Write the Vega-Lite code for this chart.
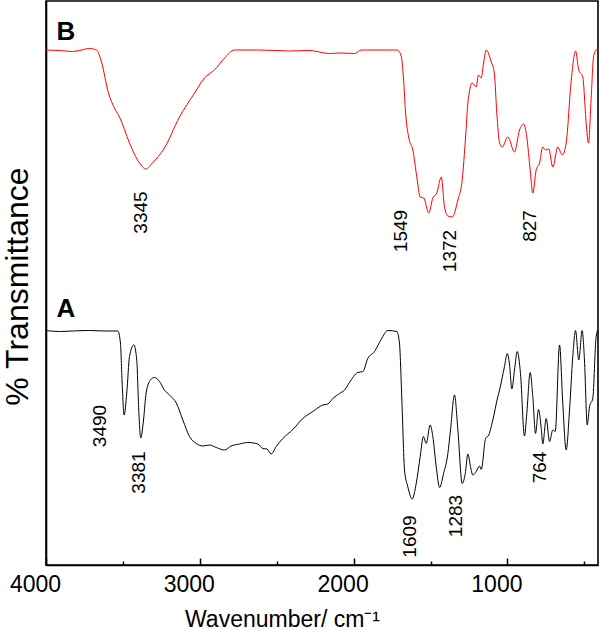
{
  "$schema": "https://vega.github.io/schema/vega-lite/v6.json",
  "width": 552,
  "height": 564,
  "autosize": {"type": "none"},
  "padding": {"left": 46, "top": 1, "right": 2, "bottom": 66},
  "background": "white",
  "config": {
    "view": {"stroke": "black", "strokeWidth": 1.6},
    "font": "Liberation Sans",
    "axis": {"domainColor": "black", "domainWidth": 1.6, "tickColor": "black", "labelColor": "black", "titleColor": "black", "grid": false, "titleFontWeight": "normal"}
  },
  "resolve": {"axis": {"x": "independent"}},
  "datasets": {
    "curves": [
      {"s": "B", "w": 4000, "T": 103}, {"s": "B", "w": 3912, "T": 102.9}, {"s": "B", "w": 3828, "T": 102.7}, {"s": "B", "w": 3782, "T": 102.9}, {"s": "B", "w": 3717, "T": 103.3}, {"s": "B", "w": 3672, "T": 103}, {"s": "B", "w": 3639, "T": 100.6}, {"s": "B", "w": 3594, "T": 94.4}, {"s": "B", "w": 3555, "T": 91.4}, {"s": "B", "w": 3522, "T": 89.6}, {"s": "B", "w": 3457, "T": 84.4}, {"s": "B", "w": 3392, "T": 80.4}, {"s": "B", "w": 3349, "T": 79.2}, {"s": "B", "w": 3308, "T": 80.4}, {"s": "B", "w": 3230, "T": 83.4}, {"s": "B", "w": 3132, "T": 89.6}, {"s": "B", "w": 3034, "T": 94.4}, {"s": "B", "w": 2970, "T": 97.4}, {"s": "B", "w": 2905, "T": 99}, {"s": "B", "w": 2839, "T": 101.4}, {"s": "B", "w": 2774, "T": 103}, {"s": "B", "w": 2612, "T": 103}, {"s": "B", "w": 2417, "T": 102.8}, {"s": "B", "w": 2287, "T": 102.9}, {"s": "B", "w": 2157, "T": 102.3}, {"s": "B", "w": 2092, "T": 102.4}, {"s": "B", "w": 1994, "T": 102.3}, {"s": "B", "w": 1949, "T": 103}, {"s": "B", "w": 1767, "T": 103}, {"s": "B", "w": 1715, "T": 103}, {"s": "B", "w": 1690, "T": 101.7}, {"s": "B", "w": 1675, "T": 97}, {"s": "B", "w": 1662, "T": 90.4}, {"s": "B", "w": 1641, "T": 85.4}, {"s": "B", "w": 1615, "T": 83}, {"s": "B", "w": 1589, "T": 77.6}, {"s": "B", "w": 1567, "T": 73.6}, {"s": "B", "w": 1544, "T": 73.4}, {"s": "B", "w": 1511, "T": 70.4}, {"s": "B", "w": 1485, "T": 73.4}, {"s": "B", "w": 1459, "T": 74.4}, {"s": "B", "w": 1430, "T": 77.6}, {"s": "B", "w": 1409, "T": 71.6}, {"s": "B", "w": 1387, "T": 69.8}, {"s": "B", "w": 1359, "T": 69.6}, {"s": "B", "w": 1322, "T": 73}, {"s": "B", "w": 1294, "T": 77}, {"s": "B", "w": 1272, "T": 85.6}, {"s": "B", "w": 1257, "T": 92.4}, {"s": "B", "w": 1229, "T": 96.4}, {"s": "B", "w": 1203, "T": 95.6}, {"s": "B", "w": 1188, "T": 98}, {"s": "B", "w": 1170, "T": 97.4}, {"s": "B", "w": 1155, "T": 100.4}, {"s": "B", "w": 1138, "T": 103}, {"s": "B", "w": 1105, "T": 100.6}, {"s": "B", "w": 1085, "T": 98.4}, {"s": "B", "w": 1069, "T": 90.4}, {"s": "B", "w": 1051, "T": 84.4}, {"s": "B", "w": 1034, "T": 83.6}, {"s": "B", "w": 997, "T": 85.6}, {"s": "B", "w": 954, "T": 82.6}, {"s": "B", "w": 921, "T": 87}, {"s": "B", "w": 895, "T": 88.2}, {"s": "B", "w": 874, "T": 85.6}, {"s": "B", "w": 852, "T": 79}, {"s": "B", "w": 835, "T": 74.4}, {"s": "B", "w": 813, "T": 79}, {"s": "B", "w": 791, "T": 80.4}, {"s": "B", "w": 770, "T": 83.6}, {"s": "B", "w": 752, "T": 83}, {"s": "B", "w": 731, "T": 83.2}, {"s": "B", "w": 705, "T": 79.6}, {"s": "B", "w": 672, "T": 83.6}, {"s": "B", "w": 644, "T": 82}, {"s": "B", "w": 618, "T": 84.4}, {"s": "B", "w": 585, "T": 97}, {"s": "B", "w": 557, "T": 102.8}, {"s": "B", "w": 536, "T": 99}, {"s": "B", "w": 510, "T": 97.6}, {"s": "B", "w": 488, "T": 88.4}, {"s": "B", "w": 473, "T": 84.4}, {"s": "B", "w": 455, "T": 93.6}, {"s": "B", "w": 440, "T": 101.6}, {"s": "B", "w": 423, "T": 103}, {"s": "B", "w": 411, "T": 103},
      {"s": "A", "w": 4000, "T": 46.9}, {"s": "A", "w": 3912, "T": 46.7}, {"s": "A", "w": 3828, "T": 46.8}, {"s": "A", "w": 3717, "T": 46.9}, {"s": "A", "w": 3620, "T": 46.8}, {"s": "A", "w": 3533, "T": 46.8}, {"s": "A", "w": 3516, "T": 44.4}, {"s": "A", "w": 3505, "T": 36.4}, {"s": "A", "w": 3492, "T": 30}, {"s": "A", "w": 3475, "T": 34.4}, {"s": "A", "w": 3457, "T": 41.7}, {"s": "A", "w": 3429, "T": 44}, {"s": "A", "w": 3410, "T": 41}, {"s": "A", "w": 3397, "T": 31}, {"s": "A", "w": 3384, "T": 25.4}, {"s": "A", "w": 3366, "T": 29}, {"s": "A", "w": 3349, "T": 34.4}, {"s": "A", "w": 3321, "T": 37}, {"s": "A", "w": 3295, "T": 37.5}, {"s": "A", "w": 3262, "T": 36.7}, {"s": "A", "w": 3230, "T": 35}, {"s": "A", "w": 3197, "T": 34}, {"s": "A", "w": 3153, "T": 32.4}, {"s": "A", "w": 3110, "T": 29}, {"s": "A", "w": 3067, "T": 25.7}, {"s": "A", "w": 3023, "T": 24.3}, {"s": "A", "w": 2980, "T": 23.8}, {"s": "A", "w": 2937, "T": 24}, {"s": "A", "w": 2893, "T": 23.5}, {"s": "A", "w": 2839, "T": 23}, {"s": "A", "w": 2796, "T": 23.8}, {"s": "A", "w": 2742, "T": 24.2}, {"s": "A", "w": 2688, "T": 24.5}, {"s": "A", "w": 2623, "T": 24.2}, {"s": "A", "w": 2590, "T": 23.3}, {"s": "A", "w": 2564, "T": 23.2}, {"s": "A", "w": 2536, "T": 22.2}, {"s": "A", "w": 2503, "T": 23.7}, {"s": "A", "w": 2460, "T": 25.3}, {"s": "A", "w": 2395, "T": 27.1}, {"s": "A", "w": 2330, "T": 29.3}, {"s": "A", "w": 2265, "T": 30.7}, {"s": "A", "w": 2200, "T": 32}, {"s": "A", "w": 2168, "T": 32.2}, {"s": "A", "w": 2135, "T": 33.3}, {"s": "A", "w": 2092, "T": 34.3}, {"s": "A", "w": 2059, "T": 35}, {"s": "A", "w": 2027, "T": 36.5}, {"s": "A", "w": 1973, "T": 38.5}, {"s": "A", "w": 1940, "T": 38.7}, {"s": "A", "w": 1908, "T": 41.3}, {"s": "A", "w": 1864, "T": 42.7}, {"s": "A", "w": 1821, "T": 45.1}, {"s": "A", "w": 1778, "T": 46.9}, {"s": "A", "w": 1719, "T": 46.7}, {"s": "A", "w": 1702, "T": 44.4}, {"s": "A", "w": 1684, "T": 31}, {"s": "A", "w": 1669, "T": 19}, {"s": "A", "w": 1648, "T": 15.7}, {"s": "A", "w": 1619, "T": 13.2}, {"s": "A", "w": 1593, "T": 16.3}, {"s": "A", "w": 1567, "T": 21.7}, {"s": "A", "w": 1546, "T": 25.7}, {"s": "A", "w": 1528, "T": 24.3}, {"s": "A", "w": 1502, "T": 28}, {"s": "A", "w": 1485, "T": 25.7}, {"s": "A", "w": 1463, "T": 19.7}, {"s": "A", "w": 1441, "T": 15.5}, {"s": "A", "w": 1415, "T": 18.3}, {"s": "A", "w": 1387, "T": 22.3}, {"s": "A", "w": 1370, "T": 27}, {"s": "A", "w": 1344, "T": 34}, {"s": "A", "w": 1322, "T": 27}, {"s": "A", "w": 1294, "T": 16.3}, {"s": "A", "w": 1274, "T": 18.3}, {"s": "A", "w": 1257, "T": 22.2}, {"s": "A", "w": 1240, "T": 19.7}, {"s": "A", "w": 1225, "T": 18}, {"s": "A", "w": 1203, "T": 18.7}, {"s": "A", "w": 1181, "T": 19.8}, {"s": "A", "w": 1170, "T": 19.1}, {"s": "A", "w": 1142, "T": 25.3}, {"s": "A", "w": 1121, "T": 26}, {"s": "A", "w": 1095, "T": 29}, {"s": "A", "w": 1062, "T": 33.7}, {"s": "A", "w": 1051, "T": 35}, {"s": "A", "w": 1019, "T": 39.7}, {"s": "A", "w": 1001, "T": 42.3}, {"s": "A", "w": 986, "T": 40}, {"s": "A", "w": 971, "T": 35.2}, {"s": "A", "w": 954, "T": 39}, {"s": "A", "w": 936, "T": 42.7}, {"s": "A", "w": 915, "T": 38.3}, {"s": "A", "w": 889, "T": 25.8}, {"s": "A", "w": 874, "T": 30.3}, {"s": "A", "w": 852, "T": 38.5}, {"s": "A", "w": 835, "T": 33.7}, {"s": "A", "w": 817, "T": 26.3}, {"s": "A", "w": 798, "T": 31.1}, {"s": "A", "w": 780, "T": 27.3}, {"s": "A", "w": 770, "T": 24.2}, {"s": "A", "w": 748, "T": 29.3}, {"s": "A", "w": 726, "T": 24.7}, {"s": "A", "w": 705, "T": 27}, {"s": "A", "w": 689, "T": 26.7}, {"s": "A", "w": 661, "T": 44}, {"s": "A", "w": 640, "T": 32.3}, {"s": "A", "w": 618, "T": 23}, {"s": "A", "w": 596, "T": 31}, {"s": "A", "w": 575, "T": 41.7}, {"s": "A", "w": 557, "T": 46.9}, {"s": "A", "w": 536, "T": 41}, {"s": "A", "w": 514, "T": 46.9}, {"s": "A", "w": 499, "T": 41}, {"s": "A", "w": 481, "T": 28}, {"s": "A", "w": 466, "T": 31.7}, {"s": "A", "w": 445, "T": 33.3}, {"s": "A", "w": 423, "T": 45.7}, {"s": "A", "w": 411, "T": 47}
    ],
    "peaks": [
      {"label": "3345", "w": 3381, "T": 70.5},
      {"label": "1549", "w": 1690, "T": 66.8},
      {"label": "1372", "w": 1376, "T": 62.8},
      {"label": "827", "w": 850, "T": 67.8},
      {"label": "3490", "w": 3652, "T": 27.8},
      {"label": "3381", "w": 3397, "T": 18.5},
      {"label": "1609", "w": 1636, "T": 5.7},
      {"label": "1283", "w": 1333, "T": 9.8},
      {"label": "764", "w": 787, "T": 19.5}
    ],
    "panels": [
      {"label": "B", "w": 3932, "T": 105},
      {"label": "A", "w": 3932, "T": 49.6}
    ]
  },
  "layer": [
    {
      "data": {"name": "curves"},
      "mark": {"type": "line", "strokeWidth": 1, "interpolate": "monotone"},
      "encoding": {
        "x": {
          "field": "w", "type": "quantitative",
          "scale": {"domain": [4000, 411], "nice": false, "zero": false},
          "axis": {
            "orient": "bottom",
            "values": [4000, 3000, 2000, 1000],
            "format": "d",
            "tickSize": -7,
            "tickWidth": 1.5,
            "labelFontSize": 23,
            "labelPadding": 15,
            "labelOffset": -11,
            "labelFlush": false,
            "labelOverlap": false,
            "title": "Wavenumber/ cm⁻¹",
            "titleFontSize": 23,
            "titleAnchor": "start",
            "titleAlign": "center",
            "titleX": 236,
            "titleY": 61,
            "titleBaseline": "alphabetic"
          }
        },
        "y": {
          "field": "T", "type": "quantitative",
          "scale": {"domain": [0, 112.8], "nice": false, "zero": false},
          "axis": {
            "ticks": false, "labels": false,
            "title": "% Transmittance",
            "titleFontSize": 32,
            "titleAngle": 270,
            "titleAlign": "center",
            "titleBaseline": "alphabetic",
            "titleX": -19,
            "titleY": 285
          }
        },
        "color": {"field": "s", "type": "nominal", "scale": {"domain": ["A", "B"], "range": ["#000000", "#ff0000"]}, "legend": null}
      }
    },
    {
      "data": {"name": "peaks"},
      "mark": {"type": "text", "angle": 270, "fontSize": 19, "align": "center", "baseline": "middle", "color": "black"},
      "encoding": {
        "x": {
          "field": "w", "type": "quantitative",
          "axis": {
            "orient": "bottom",
            "values": [3500, 2500, 1500, 500],
            "tickSize": -4,
            "tickWidth": 1.5,
            "labels": false,
            "domain": false,
            "title": null
          }
        },
        "y": {"field": "T", "type": "quantitative"},
        "text": {"field": "label"}
      }
    },
    {
      "data": {"name": "panels"},
      "mark": {"type": "text", "fontSize": 26, "fontWeight": "bold", "align": "left", "baseline": "alphabetic", "color": "black"},
      "encoding": {
        "x": {"field": "w", "type": "quantitative", "axis": null},
        "y": {"field": "T", "type": "quantitative"},
        "text": {"field": "label"}
      }
    }
  ]
}
